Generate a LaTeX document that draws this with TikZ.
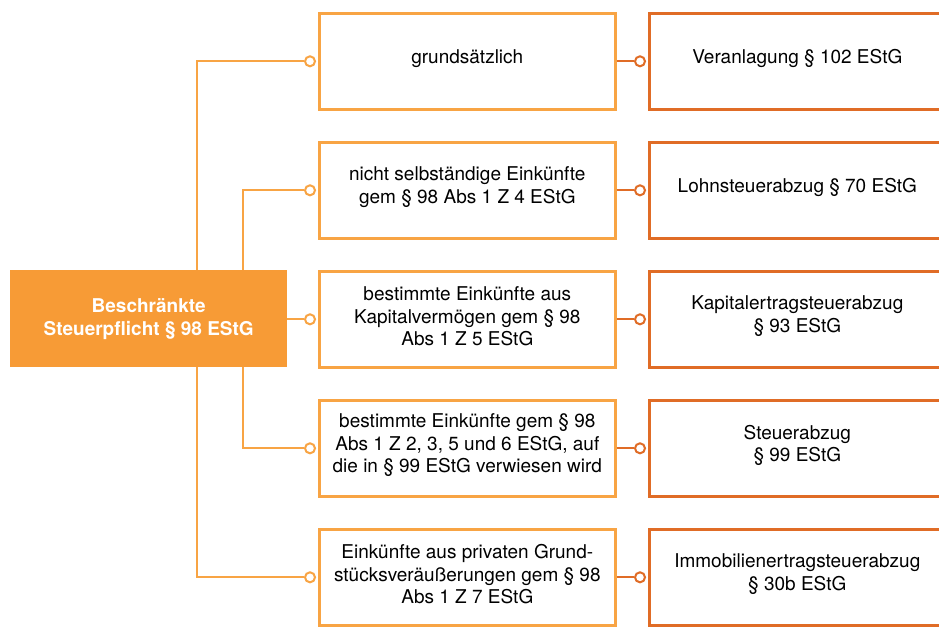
\documentclass[tikz,border=0pt]{standalone}
\usepackage{fontspec}
\setmainfont{TeX Gyre Heros}
\definecolor{lorange}{HTML}{F79B36}
\definecolor{morange}{HTML}{F8A444}
\definecolor{dorange}{HTML}{E06C26}
\begin{document}
\begin{tikzpicture}[x=1pt,y=-1pt,
  box/.style={line width=2.6pt,fill=white,minimum width=296pt,minimum height=96pt,inner sep=0pt,anchor=north west},
  mid/.style={box,draw=morange},
  res/.style={box,draw=dorange},
  txt/.style={align=center,inner sep=0pt,yshift=3pt,font=\fontsize{19}{22.5}\selectfont},
  conn/.style={draw=morange,line width=2pt},
  dconn/.style={draw=dorange,line width=2pt},
  dot/.style={circle,draw=morange,fill=white,line width=2pt,minimum size=10pt,inner sep=0pt},
  ddot/.style={circle,draw=dorange,fill=white,line width=2pt,minimum size=10pt,inner sep=0pt}]
\clip (0,0) rectangle (939,627);
\fill[white] (0,0) rectangle (939,627);
% left box
\node[fill=lorange,minimum width=277pt,minimum height=97pt,inner sep=0pt,anchor=north west,align=center,text=white,font=\bfseries\fontsize{19}{23}\selectfont] (root) at (10,270) {Beschränkte\\Steuerpflicht § 98 EStG};
% middle boxes
\node[mid] (m1) at (318,12) {};
\node[mid] (m2) at (318,141) {};
\node[mid] (m3) at (318,270) {};
\node[mid] (m4) at (318,399) {};
\node[mid] (m5) at (318,528) {};
\node[txt] (tm1) at (m1.center) {grundsätzlich};
\node[txt] (tm2) at (m2.center) {nicht selbständige Einkünfte\\gem § 98 Abs 1 Z 4 EStG};
\node[txt] (tm3) at (m3.center) {bestimmte Einkünfte aus\\Kapitalvermögen gem § 98\\Abs 1 Z 5 EStG};
\node[txt] (tm4) at (m4.center) {bestimmte Einkünfte gem § 98\\Abs 1 Z 2, 3, 5 und 6 EStG, auf\\die in § 99 EStG verwiesen wird};
\node[txt] (tm5) at (m5.center) {Einkünfte aus privaten Grund-\\stücksveräußerungen gem § 98\\Abs 1 Z 7 EStG};
% right boxes
\node[res] (r1) at (648,12) {};
\node[res] (r2) at (648,141) {};
\node[res] (r3) at (648,270) {};
\node[res] (r4) at (648,399) {};
\node[res] (r5) at (648,528) {};
\node[txt] (tr1) at (r1.center) {Veranlagung § 102 EStG};
\node[txt] (tr2) at (r2.center) {Lohnsteuerabzug § 70 EStG};
\node[txt] (tr3) at (r3.center) {Kapitalertragsteuerabzug\\§ 93 EStG};
\node[txt] (tr4) at (r4.center) {Steuerabzug\\§ 99 EStG};
\node[txt] (tr5) at (r5.center) {Immobilienertragsteuerabzug\\§ 30b EStG};
% dots
\foreach \i in {1,...,5}{
  \node[dot] (d\i) at ([xshift=-8pt]m\i.west) {};
  \node[ddot] (e\i) at ([xshift=-8pt]r\i.west) {};
}
% connectors from root
\draw[conn] (root.north -| 197,0) |- (d1.west);
\draw[conn] (root.north -| 243,0) |- (d2.west);
\draw[conn] (root.east |- d3) -- (d3.west);
\draw[conn] (root.south -| 243,0) |- (d4.west);
\draw[conn] (root.south -| 197,0) |- (d5.west);
% connectors middle -> right
\foreach \i in {1,...,5}{
  \draw[dconn] (m\i.east) -- (e\i.west);
}
\end{tikzpicture}
\end{document}
